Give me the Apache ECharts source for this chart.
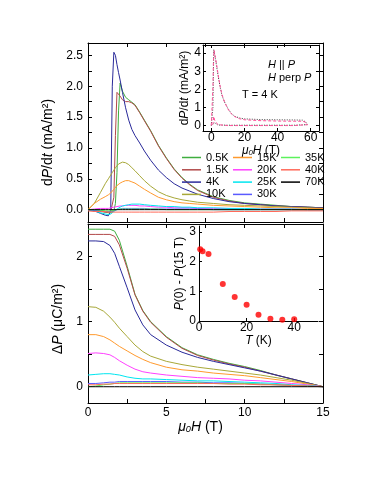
<!DOCTYPE html>
<html>
<head>
<meta charset="utf-8">
<script src="https://cdn.jsdelivr.net/npm/echarts@6/dist/echarts.min.js"></script>
<style>
html,body{margin:0;padding:0;background:#fff;}
#chart{width:383px;height:500px;}
</style>
</head>
<body>
<div id="chart"></div>
<script>
// temperatures and colours
var temps = ['0.5K','1.5K','4K','10K','15K','20K','25K','30K','35K','40K','70K'];
var colors = ['#3fae3f','#b24a4a','#2a2a9a','#a8a838','#ff9a2e','#ff40ff','#00e6f0','#5a5aff','#5cf25c','#ff6a5a','#000000'];

// upper panel: dP/dt vs field
var fieldTop = [0,0.4,0.8,1.1,1.3,1.45,1.55,1.65,1.75,1.85,1.95,2.05,2.2,2.4,2.6,2.8,3.0,3.3,3.6,4.0,4.5,5.0,5.5,6.0,6.5,7.0,8,9,10,11,12,13,14,15];
var dpdt05 = [0,0,-0.02,-0.04,-0.05,-0.05,-0.04,-0.02,0.1,0.6,1.6,2.05,1.92,1.82,1.78,1.74,1.7,1.58,1.45,1.28,1.04,0.84,0.66,0.52,0.41,0.32,0.21,0.15,0.11,0.09,0.07,0.05,0.04,0.03];
var dpdt15 = [0,-0.02,-0.03,-0.04,-0.04,-0.03,-0.02,0.2,1.2,1.9,1.88,1.84,1.78,1.75,1.75,1.73,1.69,1.57,1.44,1.27,1.03,0.83,0.65,0.51,0.4,0.31,0.2,0.14,0.1,0.08,0.06,0.05,0.04,0.03];
var dpdt4 = [0,-0.02,-0.06,-0.09,-0.1,-0.02,2.0,2.55,2.5,2.35,2.22,2.1,1.9,1.65,1.45,1.3,1.2,1.08,0.95,0.8,0.64,0.52,0.42,0.35,0.3,0.25,0.18,0.13,0.1,0.08,0.06,0.05,0.04,0.03];
var dpdt10 = [0,0.1,0.28,0.42,0.5,0.56,0.6,0.64,0.68,0.71,0.74,0.76,0.77,0.76,0.73,0.68,0.63,0.55,0.47,0.38,0.29,0.23,0.19,0.16,0.14,0.12,0.1,0.08,0.07,0.06,0.05,0.04,0.03,0.02];
var dpdt15K = [0,0.1,0.17,0.21,0.24,0.27,0.3,0.33,0.36,0.39,0.41,0.43,0.45,0.47,0.47,0.45,0.43,0.38,0.33,0.27,0.2,0.16,0.13,0.11,0.1,0.09,0.07,0.06,0.05,0.04,0.03,0.03,0.02,0.02];
var dpdt20 = [0,0.01,0.02,0.02,0.02,0.03,0.03,0.04,0.04,0.05,0.05,0.06,0.06,0.07,0.07,0.07,0.07,0.06,0.06,0.05,0.04,0.04,0.03,0.03,0.03,0.02,0.02,0.02,0.01,0.01,0.01,0.01,0,0];
var dpdt25 = [0,-0.02,-0.05,-0.07,-0.08,-0.07,-0.05,-0.03,-0.01,0.01,0.03,0.04,0.06,0.07,0.08,0.09,0.09,0.09,0.08,0.07,0.06,0.05,0.05,0.04,0.04,0.03,0.03,0.02,0.02,0.01,0.01,0.01,0,0];
var dpdt30 = [0,-0.01,-0.02,-0.03,-0.03,-0.03,-0.02,-0.02,-0.01,0,0.01,0.01,0.02,0.02,0.02,0.02,0.02,0.02,0.02,0.01,0.01,0.01,0.01,0.01,0.01,0.01,0,0,0,0,0,0,0,0];
var dpdt35 = [0,0,-0.01,-0.02,-0.02,-0.02,-0.02,-0.01,-0.01,0,0,0.01,0.01,0.01,0.01,0.01,0.01,0.01,0.01,0.01,0.01,0,0,0,0,0,0,0,0,0,0,0,0,0];
var dpdt40 = [-0.02,-0.03,-0.03,-0.03,-0.04,-0.04,-0.04,-0.04,-0.04,-0.04,-0.04,-0.04,-0.04,-0.04,-0.04,-0.04,-0.04,-0.04,-0.04,-0.04,-0.04,-0.04,-0.04,-0.04,-0.04,-0.04,-0.04,-0.03,-0.03,-0.03,-0.03,-0.02,-0.02,-0.02];
var dpdt70 = [0,0,0,0,0,0,0,0,0,0,0,0,0,0,0,0,0,0,0,0,0,0,0,0,0,0,0,0,0,0,0,0,0,0];

// lower panel: delta P vs field
var fieldBot = [0,0.5,1.0,1.4,1.7,2.0,2.5,3.0,3.5,4.0,5,6,7,8,9,10,11,12,13,14,15];
var dP05 = [2.42,2.42,2.42,2.42,2.39,2.25,1.85,1.42,1.17,1.0,0.77,0.6,0.49,0.42,0.36,0.31,0.25,0.18,0.12,0.06,0];
var dP15 = [2.34,2.34,2.34,2.34,2.31,2.18,1.82,1.41,1.16,0.99,0.76,0.59,0.48,0.41,0.35,0.3,0.24,0.18,0.12,0.06,0];
var dP4 = [2.24,2.24,2.23,2.17,2.05,1.85,1.52,1.18,0.95,0.8,0.64,0.53,0.45,0.39,0.34,0.29,0.24,0.18,0.12,0.06,0];
var dP10 = [1.23,1.22,1.16,1.07,0.99,0.9,0.77,0.64,0.54,0.47,0.39,0.34,0.3,0.27,0.24,0.21,0.18,0.14,0.1,0.05,0];
var dP15K = [0.8,0.8,0.77,0.72,0.67,0.62,0.55,0.48,0.42,0.37,0.3,0.26,0.24,0.21,0.19,0.17,0.14,0.11,0.08,0.04,0];
var dP20 = [0.51,0.52,0.51,0.49,0.45,0.4,0.33,0.27,0.23,0.21,0.18,0.16,0.14,0.13,0.12,0.1,0.09,0.07,0.05,0.03,0];
var dP25 = [0.18,0.19,0.2,0.2,0.19,0.18,0.15,0.13,0.12,0.12,0.11,0.1,0.09,0.09,0.08,0.07,0.06,0.05,0.03,0.02,0];
var dP30 = [0.05,0.05,0.06,0.07,0.07,0.08,0.08,0.08,0.08,0.08,0.08,0.07,0.07,0.06,0.06,0.05,0.04,0.03,0.02,0.01,0];
var dP35 = [0,0.01,0.03,0.04,0.05,0.06,0.06,0.06,0.06,0.06,0.06,0.06,0.06,0.05,0.05,0.05,0.04,0.03,0.02,0.01,0];
var dP40 = [0.03,0.03,0.04,0.04,0.05,0.05,0.05,0.05,0.05,0.05,0.05,0.05,0.05,0.05,0.04,0.04,0.03,0.03,0.02,0.01,0];
var dP70 = [0,0,0,0,0,0,0,0,0,0,0,0,0,0,0,0,0,0,0,0,0];

var topCurves = [dpdt05,dpdt15,dpdt4,dpdt10,dpdt15K,dpdt20,dpdt25,dpdt30,dpdt35,dpdt40,dpdt70];
var botCurves = [dP05,dP15,dP4,dP10,dP15K,dP20,dP25,dP30,dP35,dP40,dP70];

// inset (T = 4 K, up to 60 T), up-sweep then down-sweep
var insetFieldPar = [0,0.5,1,1.5,2.5,3.5,4.5,5.5,6.5,8,10,12,14,17,20,30,40,50,55,57,58,50,30,10,4,2,1,0];
var insetPar = [0,0.05,1.0,4.2,3.7,3.1,2.55,2.05,1.65,1.3,0.95,0.68,0.52,0.42,0.37,0.33,0.32,0.31,0.3,0.2,0.05,0.02,0.02,0.02,0.03,0.15,0.05,0];
var insetFieldPerp = [0,0.5,1,1.3,1.7,2.5,3.5,4.5,5.5,6.5,8,10,12,14,17,20,30,40,50,55,57,58,50,30,10,4,2,1.5,1,0];
var insetPerp = [0,0.1,2.2,3.6,4.15,3.75,3.2,2.6,2.1,1.7,1.3,0.92,0.66,0.5,0.38,0.32,0.27,0.25,0.24,0.24,0.18,0.05,0,0,0,0.05,0.3,0.5,0.1,0];

// inset: P(0) - P(15 T) vs T
var tempK = [0.5,1.5,4,10,15,20,25,30,35,40];
var deltaP = [2.42,2.35,2.26,1.25,0.81,0.55,0.21,0.08,0.04,0.06];

var FONT = '"Liberation Sans", Arial, sans-serif';

function pairs(xs, ys){
    var out = [];
    for(var i=0;i<xs.length;i++){ out.push([xs[i], ys[i]]); }
    return out;
}

function makeAxis(o){
    var a = {
        type:'value', gridIndex:o.grid, position:o.pos, min:o.min, max:o.max,
        axisLine:{show:true, onZero:false, lineStyle:{color:'#000', width:1}},
        axisTick:{show:!!o.ticks, inside:true, length:o.tickLen || 4, customValues:o.ticks, lineStyle:{color:'#000', width:1}},
        axisLabel:{show:!!o.labels, customValues:o.labels, margin:o.margin || 4, color:'#000', fontFamily:FONT, fontSize:o.fontSize || 12, formatter:o.fmt},
        splitLine:{show:false}
    };
    if(o.name){
        a.name = o.name;
        a.nameLocation = 'middle';
        a.nameGap = o.nameGap;
        var fs = o.nameSize || 14;
        a.nameTextStyle = {color:'#000', fontFamily:FONT, fontSize:fs, padding:o.namePad || 0, rich:{
            i:{fontStyle:'italic', fontFamily:FONT, fontSize:fs, color:'#000'},
            n:{fontFamily:FONT, fontSize:fs, color:'#000'},
            sub:{fontStyle:'italic', fontFamily:FONT, fontSize:fs*0.65, color:'#000', verticalAlign:'bottom', padding:[fs*0.35,0,0,0]}
        }};
    }
    return a;
}

var q = [0,0.25,0.5,0.75,1,1.25,1.5,1.75,2,2.25,2.5];
var fieldTicks = [2.5,5,7.5,10,12.5];

var xAxes = [
    makeAxis({grid:0, pos:'bottom', min:0, max:15, ticks:fieldTicks}),
    makeAxis({grid:0, pos:'top', min:0, max:15, ticks:fieldTicks}),
    makeAxis({grid:1, pos:'bottom', min:0, max:15, ticks:fieldTicks, labels:[0,5,10,15], margin:4,
        name:'{i|μ}{sub|0}{i|H}{n| (T)}', nameGap:10, namePad:[0,10,0,0]}),
    makeAxis({grid:1, pos:'top', min:0, max:15, ticks:fieldTicks}),
    makeAxis({grid:2, pos:'bottom', min:-5, max:65, ticks:[0,20,40,60], labels:[0,20,40,60], margin:1, tickLen:3,
        name:'{i|μ}{sub|0}{i|H}{n| (T)}', nameGap:10, nameSize:12}),
    makeAxis({grid:2, pos:'top', min:-5, max:65, ticks:[0,20,40,60], tickLen:3}),
    makeAxis({grid:3, pos:'bottom', min:0, max:50, ticks:[0,20,40], labels:[0,20,40], margin:1, tickLen:3,
        name:'{i|T}{n| (K)}', nameGap:13, nameSize:12})
];

var yAxes = [
    makeAxis({grid:0, pos:'left', min:-0.2, max:2.7, ticks:q, labels:[0,0.5,1,1.5,2,2.5], margin:5,
        fmt:function(v){ return v.toFixed(1); },
        name:'d{i|P}/d{i|t}{n| (mA/m²)}', nameGap:28, namePad:[0,20,0,0]}),
    makeAxis({grid:0, pos:'right', min:-0.2, max:2.7, ticks:q}),
    makeAxis({grid:1, pos:'left', min:-0.25, max:2.5, ticks:[0,0.5,1,1.5,2], labels:[0,1,2], margin:5,
        name:'Δ{i|P}{n| (μC/m²)}', nameGap:16, namePad:[0,11,0,0]}),
    makeAxis({grid:1, pos:'right', min:-0.25, max:2.5, ticks:[0,0.5,1,1.5,2]}),
    makeAxis({grid:2, pos:'left', min:-0.3, max:4.45, ticks:[0,1,2,3,4], labels:[0,1,2,3,4], margin:2, tickLen:3,
        name:'d{i|P}/d{i|t}{n| (mA/m²)}', nameGap:9, nameSize:12}),
    makeAxis({grid:2, pos:'right', min:-0.3, max:4.45, ticks:[0,1,2,3,4], tickLen:3}),
    makeAxis({grid:3, pos:'left', min:0, max:3.2, ticks:[0,1,2,3], labels:[0,1,2,3], margin:3, tickLen:3,
        name:'{i|P}{n|(0) - }{i|P}{n|(15 T)}', nameGap:12, nameSize:12})
];

var series = [];
temps.forEach(function(t, i){
    series.push({name:t, type:'line', xAxisIndex:0, yAxisIndex:0, data:pairs(fieldTop, topCurves[i]),
        symbol:'none', lineStyle:{width:1, color:colors[i]}, itemStyle:{color:colors[i]}, silent:true});
    series.push({name:t, type:'line', xAxisIndex:2, yAxisIndex:2, data:pairs(fieldBot, botCurves[i]),
        symbol:'none', lineStyle:{width:1, color:colors[i]}, itemStyle:{color:colors[i]}, silent:true});
});
series.push({name:'H || P', type:'line', xAxisIndex:4, yAxisIndex:4, data:pairs(insetFieldPar, insetPar),
    symbol:'none', lineStyle:{width:1, color:'#444', type:[1,1.5]}, silent:true});
series.push({name:'H perp P', type:'line', xAxisIndex:4, yAxisIndex:4, data:pairs(insetFieldPerp, insetPerp),
    symbol:'none', lineStyle:{width:1, color:'#ff4f98', type:[3,2]}, silent:true});
series.push({name:'P0', type:'scatter', xAxisIndex:6, yAxisIndex:6, data:pairs(tempK, deltaP),
    symbol:'circle', symbolSize:6, itemStyle:{color:'#ff0000'}, silent:true});

function legendCol(names, left){
    return {data:names, left:left, top:151.5, orient:'vertical', icon:'rect', itemWidth:19, itemHeight:1.5,
        itemGap:0.3, padding:0, selectedMode:false,
        textStyle:{fontFamily:FONT, fontSize:11, color:'#000', lineHeight:12}};
}

var textRich = {i:{fontStyle:'italic', fontFamily:FONT, fontSize:11, fill:'#000'}, n:{fontFamily:FONT, fontSize:11, fill:'#000'}};

var option = {
    animation:false,
    backgroundColor:'#fff',
    grid:[
        {left:88, top:43, width:235, height:179, outerBoundsMode:'none'},
        {left:88, top:224, width:235, height:179, outerBoundsMode:'none'},
        {left:203, top:45, width:116, height:86, outerBoundsMode:'none'},
        {left:199, top:226, width:119, height:95, outerBoundsMode:'none'}
    ],
    legend:[
        legendCol(['0.5K','1.5K','4K','10K'], 182),
        legendCol(['15K','20K','25K','30K'], 233),
        legendCol(['35K','40K','70K'], 281)
    ],
    xAxis:xAxes,
    yAxis:yAxes,
    series:series,
    graphic:[
        {type:'text', x:268, y:65, style:{text:'{i|H}{n| || }{i|P}', rich:textRich, verticalAlign:'middle'}},
        {type:'text', x:268, y:78, style:{text:'{i|H}{n| perp }{i|P}', rich:textRich, verticalAlign:'middle'}},
        {type:'text', x:242, y:95, style:{text:'T = 4 K', font:'11px ' + FONT, fill:'#000', verticalAlign:'middle'}}
    ]
};

echarts.init(document.getElementById('chart')).setOption(option);
</script>
</body>
</html>
